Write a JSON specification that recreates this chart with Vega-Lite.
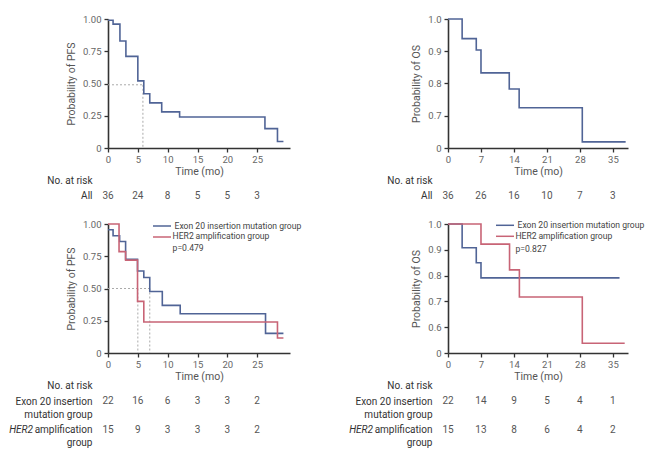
{
  "$schema": "https://vega.github.io/schema/vega-lite/v6.json",
  "padding": {"left": 8, "top": 14, "right": 0, "bottom": 0},
  "autosize": {"type": "pad"},
  "bounds": "flush",
  "columns": 2,
  "spacing": {"row": 8, "column": 158},
  "resolve": {"scale": {"color": "independent", "x": "independent", "y": "independent"}, "legend": {"color": "independent"}},
  "config": {
    "view": {"stroke": null},
    "font": "Roboto",
    "text": {"font": "Roboto"},
    "axis": {"domainColor": "#333", "domainWidth": 1.6, "tickColor": "#333", "tickWidth": 1.3, "tickSize": 4,
      "labelFont": "Roboto", "labelFontSize": 9.5, "labelColor": "#666",
      "titleFont": "Roboto", "titleFontSize": 10.5, "titleFontWeight": "normal", "titleColor": "#555",
      "grid": false, "labelFlush": false, "labelOverlap": false},
    "axisX": {"labelPadding": 2, "titlePadding": 3},
    "axisY": {"labelPadding": 3, "titlePadding": 6},
    "legend": {"labelFont": "Roboto", "labelFontSize": 8.6, "labelColor": "#444"}
  },
  "datasets": {
    "km_tl": [{"t":0,"s":0.99},{"t":0.85,"s":0.96},{"t":2,"s":0.83},{"t":3,"s":0.71},{"t":5,"s":0.52},{"t":6,"s":0.42},{"t":7,"s":0.35},{"t":9,"s":0.28},{"t":12,"s":0.24},{"t":26.3,"s":0.15},{"t":28.4,"s":0.05},{"t":29.4,"s":0.05}],
    "km_tr": [{"t":0,"s":1},{"t":3,"s":0.939},{"t":6,"s":0.904},{"t":7,"s":0.833},{"t":13,"s":0.783},{"t":15.1,"s":0.725},{"t":28.5,"s":0.619},{"t":37.7,"s":0.619}],
    "km_bl": [
      {"g":"Exon 20 insertion mutation group","t":0,"s":0.955},{"g":"Exon 20 insertion mutation group","t":0.85,"s":0.909},{"g":"Exon 20 insertion mutation group","t":1.95,"s":0.864},{"g":"Exon 20 insertion mutation group","t":2.95,"s":0.727},{"g":"Exon 20 insertion mutation group","t":4.95,"s":0.636},{"g":"Exon 20 insertion mutation group","t":6,"s":0.585},{"g":"Exon 20 insertion mutation group","t":7,"s":0.477},{"g":"Exon 20 insertion mutation group","t":9.1,"s":0.369},{"g":"Exon 20 insertion mutation group","t":12.1,"s":0.304},{"g":"Exon 20 insertion mutation group","t":26.4,"s":0.152},{"g":"Exon 20 insertion mutation group","t":29.4,"s":0.152},
      {"g":"HER2 amplification group","t":0,"s":1},{"g":"HER2 amplification group","t":1.85,"s":0.786},{"g":"HER2 amplification group","t":2.95,"s":0.72},{"g":"HER2 amplification group","t":4.95,"s":0.4},{"g":"HER2 amplification group","t":6,"s":0.24},{"g":"HER2 amplification group","t":28.4,"s":0.116},{"g":"HER2 amplification group","t":29.4,"s":0.116}
    ],
    "km_br": [
      {"g":"Exon 20 insertion mutation group","t":0,"s":1},{"g":"Exon 20 insertion mutation group","t":3,"s":0.908},{"g":"Exon 20 insertion mutation group","t":6,"s":0.85},{"g":"Exon 20 insertion mutation group","t":7,"s":0.791},{"g":"Exon 20 insertion mutation group","t":36.4,"s":0.791},
      {"g":"HER2 amplification group","t":0,"s":1},{"g":"HER2 amplification group","t":7,"s":0.922},{"g":"HER2 amplification group","t":13.06,"s":0.822},{"g":"HER2 amplification group","t":15.15,"s":0.717},{"g":"HER2 amplification group","t":28.5,"s":0.538},{"g":"HER2 amplification group","t":37.5,"s":0.538}
    ],
    "med_tl": [{"t0":0,"t1":5.85,"s0":0.49,"s1":0.49},{"t0":5.85,"t1":5.85,"s0":0.49,"s1":0}],
    "med_bl": [{"t0":0,"t1":7,"s0":0.5,"s1":0.5},{"t0":5,"t1":5,"s0":0.5,"s1":0},{"t0":7,"t1":7,"s0":0.5,"s1":0}],
    "risk_tl": [{"t":0,"r":"All","n":36},{"t":5,"r":"All","n":24},{"t":10,"r":"All","n":8},{"t":15,"r":"All","n":5},{"t":20,"r":"All","n":5},{"t":25,"r":"All","n":3}],
    "risk_tr": [{"t":0,"r":"All","n":36},{"t":7,"r":"All","n":26},{"t":14,"r":"All","n":16},{"t":21,"r":"All","n":10},{"t":28,"r":"All","n":7},{"t":35,"r":"All","n":3}],
    "risk_bl": [{"t":0,"r":"Exon","n":22},{"t":5,"r":"Exon","n":16},{"t":10,"r":"Exon","n":6},{"t":15,"r":"Exon","n":3},{"t":20,"r":"Exon","n":3},{"t":25,"r":"Exon","n":2},
      {"t":0,"r":"HER2","n":15},{"t":5,"r":"HER2","n":9},{"t":10,"r":"HER2","n":3},{"t":15,"r":"HER2","n":3},{"t":20,"r":"HER2","n":3},{"t":25,"r":"HER2","n":2}],
    "risk_br": [{"t":0,"r":"Exon","n":22},{"t":7,"r":"Exon","n":14},{"t":14,"r":"Exon","n":9},{"t":21,"r":"Exon","n":5},{"t":28,"r":"Exon","n":4},{"t":35,"r":"Exon","n":1},
      {"t":0,"r":"HER2","n":15},{"t":7,"r":"HER2","n":13},{"t":14,"r":"HER2","n":8},{"t":21,"r":"HER2","n":6},{"t":28,"r":"HER2","n":4},{"t":35,"r":"HER2","n":2}]
  },
  "concat": [
    {
      "width": 182, "height": 129,
      "layer": [
        {"data": {"name": "med_tl"}, "mark": {"type": "rule", "color": "#aaa", "strokeDash": [2, 2], "strokeWidth": 1},
         "encoding": {"x": {"field": "t0", "type": "quantitative", "scale": {"domain": [0, 30.5], "nice": false}, "axis": {"values": [0,5,10,15,20,25], "title": "Time (mo)"}}, "x2": {"field": "t1"},
                      "y": {"field": "s0", "type": "quantitative", "scale": {"domain": [0, 1], "nice": false}, "axis": {"values": [0,0.25,0.5,0.75,1], "labelExpr": "datum.value == 0 ? '0' : format(datum.value, '.2f')", "title": "Probability of PFS"}}, "y2": {"field": "s1"}}},
        {"data": {"name": "km_tl"}, "mark": {"type": "line", "interpolate": "step-after", "color": "#506496", "strokeWidth": 1.6},
         "encoding": {"x": {"field": "t", "type": "quantitative", "axis": {"values": [0,5,10,15,20,25], "title": "Time (mo)"}},
                      "y": {"field": "s", "type": "quantitative", "axis": {"values": [0,0.25,0.5,0.75,1], "labelExpr": "datum.value == 0 ? '0' : format(datum.value, '.2f')", "title": "Probability of PFS"}}}}
      ]
    },
    {
      "width": 180, "height": 129,
      "layer": [
        {"data": {"name": "km_tr"}, "mark": {"type": "line", "interpolate": "step-after", "color": "#506496", "strokeWidth": 1.6},
         "encoding": {"x": {"field": "t", "type": "quantitative", "scale": {"domain": [0, 38.2], "nice": false}, "axis": {"values": [0,7,14,21,28,35], "title": "Time (mo)"}},
                      "y": {"field": "s", "type": "quantitative", "scale": {"domain": [0.6, 1], "nice": false}, "axis": {"values": [0.6,0.7,0.8,0.9,1], "labelExpr": "datum.value < 0.65 ? '0' : format(datum.value, '.1f')", "title": "Probability of OS"}}}}
      ]
    },
    {
      "width": 182, "height": 60,
      "data": {"name": "risk_tl"},
      "mark": {"type": "text", "baseline": "alphabetic", "fontSize": 10, "color": "#555"},
      "encoding": {
        "x": {"field": "t", "type": "quantitative", "scale": {"domain": [0, 30.5], "nice": false}, "axis": null},
        "y": {"field": "r", "type": "ordinal", "scale": {"type": "point", "domain": ["All"], "padding": 0.5, "align": 0.71},
              "axis": {"domain": false, "ticks": false, "tickSize": 0, "labelPadding": 16, "labelFontSize": 10, "labelColor": "#333", "labelBaseline": "alphabetic",
                       "title": "No. at risk", "titleAngle": 0, "titleAlign": "right", "titleBaseline": "alphabetic", "titleX": -16, "titleY": 27.5, "titleFontSize": 10, "titleColor": "#333"}},
        "text": {"field": "n", "type": "quantitative"}
      }
    },
    {
      "width": 180, "height": 60,
      "data": {"name": "risk_tr"},
      "mark": {"type": "text", "baseline": "alphabetic", "fontSize": 10, "color": "#555"},
      "encoding": {
        "x": {"field": "t", "type": "quantitative", "scale": {"domain": [0, 38.2], "nice": false}, "axis": null},
        "y": {"field": "r", "type": "ordinal", "scale": {"type": "point", "domain": ["All"], "padding": 0.5, "align": 0.71},
              "axis": {"domain": false, "ticks": false, "tickSize": 0, "labelPadding": 16, "labelFontSize": 10, "labelColor": "#333", "labelBaseline": "alphabetic",
                       "title": "No. at risk", "titleAngle": 0, "titleAlign": "right", "titleBaseline": "alphabetic", "titleX": -16, "titleY": 27.5, "titleFontSize": 10, "titleColor": "#333"}},
        "text": {"field": "n", "type": "quantitative"}
      }
    },
    {
      "width": 182, "height": 129,
      "layer": [
        {"data": {"name": "med_bl"}, "mark": {"type": "rule", "color": "#aaa", "strokeDash": [2, 2], "strokeWidth": 1},
         "encoding": {"x": {"field": "t0", "type": "quantitative", "scale": {"domain": [0, 30.5], "nice": false}, "axis": {"values": [0,5,10,15,20,25], "title": "Time (mo)"}}, "x2": {"field": "t1"},
                      "y": {"field": "s0", "type": "quantitative", "scale": {"domain": [0, 1], "nice": false}, "axis": {"values": [0,0.25,0.5,0.75,1], "labelExpr": "datum.value == 0 ? '0' : format(datum.value, '.2f')", "title": "Probability of PFS"}}, "y2": {"field": "s1"}}},
        {"data": {"name": "km_bl"}, "mark": {"type": "line", "interpolate": "step-after", "strokeWidth": 1.6},
         "encoding": {"x": {"field": "t", "type": "quantitative", "axis": {"values": [0,5,10,15,20,25], "title": "Time (mo)"}},
                      "y": {"field": "s", "type": "quantitative", "axis": {"values": [0,0.25,0.5,0.75,1], "labelExpr": "datum.value == 0 ? '0' : format(datum.value, '.2f')", "title": "Probability of PFS"}},
                      "color": {"field": "g", "type": "nominal", "scale": {"domain": ["Exon 20 insertion mutation group", "HER2 amplification group"], "range": ["#506496", "#c86476"]},
                                "legend": {"orient": "none", "legendX": 44, "legendY": -4, "title": null, "symbolType": "M-1,0H2.6", "symbolSize": 100, "symbolStrokeWidth": 1.5, "rowPadding": 0, "labelOffset": 10.5,
                                           "labelExpr": "datum.label == 'HER2 amplification group' ? '' : datum.label"}}}},
        {"data": {"values": [{"p": "HER2", "x": 10.82, "i": "italic"}, {"p": "amplification group", "x": 14.66, "i": "normal"}]}, "mark": {"type": "text", "align": "left", "baseline": "middle", "fontSize": 8.6, "color": "#444"},
         "encoding": {"x": {"field": "x", "type": "quantitative", "axis": {"values": [0,5,10,15,20,25], "title": "Time (mo)"}}, "y": {"datum": 0.904, "type": "quantitative", "axis": {"values": [0,0.25,0.5,0.75,1], "labelExpr": "datum.value == 0 ? '0' : format(datum.value, '.2f')", "title": "Probability of PFS"}}, "text": {"field": "p"},
                      "fontStyle": {"field": "i", "type": "nominal", "scale": null}}},
        {"data": {"values": [{"p": "p=0.479"}]}, "mark": {"type": "text", "align": "left", "baseline": "middle", "fontSize": 8.6, "color": "#444"},
         "encoding": {"x": {"datum": 10.82, "type": "quantitative", "axis": {"values": [0,5,10,15,20,25], "title": "Time (mo)"}}, "y": {"datum": 0.815, "type": "quantitative", "axis": {"values": [0,0.25,0.5,0.75,1], "labelExpr": "datum.value == 0 ? '0' : format(datum.value, '.2f')", "title": "Probability of PFS"}}, "text": {"field": "p"}}}
      ]
    },
    {
      "width": 180, "height": 129,
      "layer": [
        {"data": {"name": "km_br"}, "mark": {"type": "line", "interpolate": "step-after", "strokeWidth": 1.6},
         "encoding": {"x": {"field": "t", "type": "quantitative", "scale": {"domain": [0, 38.2], "nice": false}, "axis": {"values": [0,7,14,21,28,35], "title": "Time (mo)"}},
                      "y": {"field": "s", "type": "quantitative", "scale": {"domain": [0.5, 1], "nice": false}, "axis": {"values": [0.5,0.6,0.7,0.8,0.9,1], "labelExpr": "datum.value < 0.55 ? '0' : format(datum.value, '.1f')", "title": "Probability of OS"}},
                      "color": {"field": "g", "type": "nominal", "scale": {"domain": ["Exon 20 insertion mutation group", "HER2 amplification group"], "range": ["#506496", "#c86476"]},
                                "legend": {"orient": "none", "legendX": 47, "legendY": -4.7, "title": null, "symbolType": "M-1,0H2.6", "symbolSize": 100, "symbolStrokeWidth": 1.5, "rowPadding": 0, "labelOffset": 10.5,
                                           "labelExpr": "datum.label == 'HER2 amplification group' ? '' : datum.label"}}}},
        {"data": {"values": [{"p": "HER2", "x": 14.32, "i": "italic"}, {"p": "amplification group", "x": 19.18, "i": "normal"}]}, "mark": {"type": "text", "align": "left", "baseline": "middle", "fontSize": 8.6, "color": "#444"},
         "encoding": {"x": {"field": "x", "type": "quantitative", "axis": {"values": [0,7,14,21,28,35], "title": "Time (mo)"}}, "y": {"datum": 0.9554, "type": "quantitative", "axis": {"values": [0.5,0.6,0.7,0.8,0.9,1], "labelExpr": "datum.value < 0.55 ? '0' : format(datum.value, '.1f')", "title": "Probability of OS"}}, "text": {"field": "p"},
                      "fontStyle": {"field": "i", "type": "nominal", "scale": null}}},
        {"data": {"values": [{"p": "p=0.827"}]}, "mark": {"type": "text", "align": "left", "baseline": "middle", "fontSize": 8.6, "color": "#444"},
         "encoding": {"x": {"datum": 14.32, "type": "quantitative", "axis": {"values": [0,7,14,21,28,35], "title": "Time (mo)"}}, "y": {"datum": 0.905, "type": "quantitative", "axis": {"values": [0.5,0.6,0.7,0.8,0.9,1], "labelExpr": "datum.value < 0.55 ? '0' : format(datum.value, '.1f')", "title": "Probability of OS"}}, "text": {"field": "p"}}}
      ]
    },
    {
      "width": 182, "height": 80,
      "data": {"name": "risk_bl"},
      "resolve": {"scale": {"y": "independent"}, "axis": {"y": "independent"}},
      "layer": [
        {"mark": {"type": "text", "baseline": "alphabetic", "fontSize": 10, "color": "#555"},
         "encoding": {
           "x": {"field": "t", "type": "quantitative", "scale": {"domain": [0, 30.5], "nice": false}, "axis": null},
           "y": {"field": "r", "type": "ordinal", "scale": {"type": "point", "domain": ["Exon", "HER2"], "padding": 0.9134, "align": 0.84},
                 "axis": {"orient": "left", "domain": false, "ticks": false, "tickSize": 0, "labelPadding": 16, "labelFontSize": 10, "labelColor": "#333", "labelBaseline": "alphabetic", "labelLineHeight": 12.7,
                          "labelExpr": "datum.value == 'Exon' ? ['Exon 20 insertion', 'mutation group'] : ['amplification', 'group']",
                          "title": "No. at risk", "titleAngle": 0, "titleAlign": "right", "titleBaseline": "alphabetic", "titleX": -16, "titleY": 27, "titleFontSize": 10, "titleColor": "#333"}},
           "text": {"field": "n", "type": "quantitative"}}},
        {"mark": {"type": "text", "baseline": "alphabetic", "fontSize": 10, "opacity": 0},
         "encoding": {
           "x": {"field": "t", "type": "quantitative", "axis": null},
           "y": {"field": "r", "type": "ordinal", "scale": {"type": "point", "domain": ["Exon", "HER2"], "padding": 0.9134, "align": 0.84},
                 "axis": {"orient": "left", "domain": false, "ticks": false, "tickSize": 0, "labelPadding": 75.5, "labelFontSize": 10, "labelFontStyle": "italic", "labelColor": "#333", "labelBaseline": "alphabetic",
                          "labelExpr": "datum.value == 'HER2' ? 'HER2' : ''", "title": null}},
           "text": {"field": "n", "type": "quantitative"}}}
      ]
    },
    {
      "width": 180, "height": 80,
      "data": {"name": "risk_br"},
      "resolve": {"scale": {"y": "independent"}, "axis": {"y": "independent"}},
      "layer": [
        {"mark": {"type": "text", "baseline": "alphabetic", "fontSize": 10, "color": "#555"},
         "encoding": {
           "x": {"field": "t", "type": "quantitative", "scale": {"domain": [0, 38.2], "nice": false}, "axis": null},
           "y": {"field": "r", "type": "ordinal", "scale": {"type": "point", "domain": ["Exon", "HER2"], "padding": 0.9134, "align": 0.84},
                 "axis": {"orient": "left", "domain": false, "ticks": false, "tickSize": 0, "labelPadding": 16, "labelFontSize": 10, "labelColor": "#333", "labelBaseline": "alphabetic", "labelLineHeight": 12.7,
                          "labelExpr": "datum.value == 'Exon' ? ['Exon 20 insertion', 'mutation group'] : ['amplification', 'group']",
                          "title": "No. at risk", "titleAngle": 0, "titleAlign": "right", "titleBaseline": "alphabetic", "titleX": -16, "titleY": 27, "titleFontSize": 10, "titleColor": "#333"}},
           "text": {"field": "n", "type": "quantitative"}}},
        {"mark": {"type": "text", "baseline": "alphabetic", "fontSize": 10, "opacity": 0},
         "encoding": {
           "x": {"field": "t", "type": "quantitative", "axis": null},
           "y": {"field": "r", "type": "ordinal", "scale": {"type": "point", "domain": ["Exon", "HER2"], "padding": 0.9134, "align": 0.84},
                 "axis": {"orient": "left", "domain": false, "ticks": false, "tickSize": 0, "labelPadding": 75.5, "labelFontSize": 10, "labelFontStyle": "italic", "labelColor": "#333", "labelBaseline": "alphabetic",
                          "labelExpr": "datum.value == 'HER2' ? 'HER2' : ''", "title": null}},
           "text": {"field": "n", "type": "quantitative"}}}
      ]
    }
  ]
}
